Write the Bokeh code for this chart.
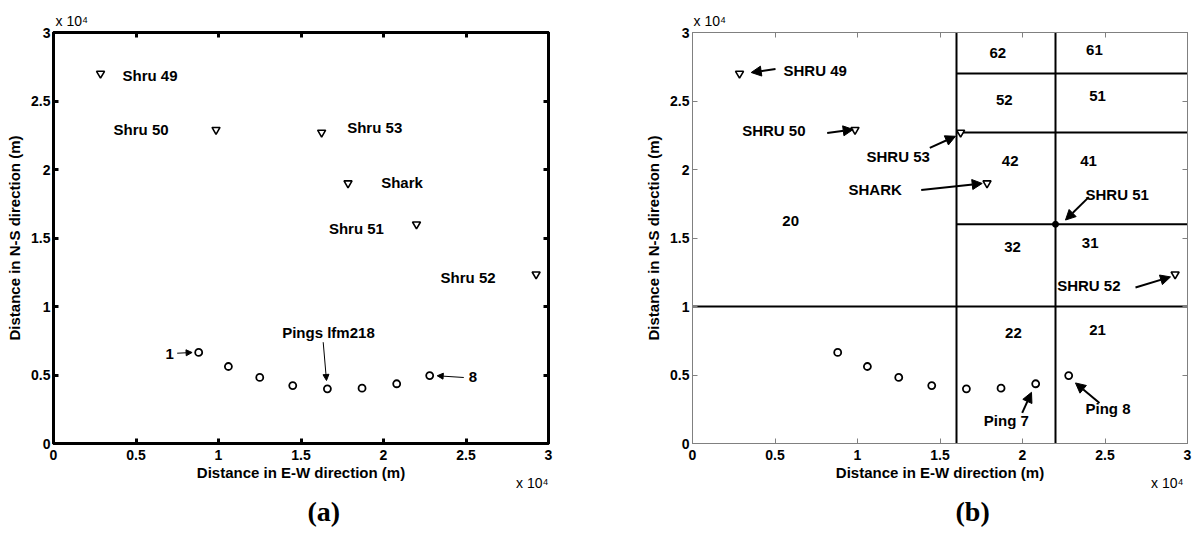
from bokeh.plotting import figure
from bokeh.layouts import row
from bokeh.models import (Range1d, FixedTicker, LinearAxis, Arrow, NormalHead, Title)
from bokeh.core.properties import value
from bokeh.embed import file_html
from bokeh.resources import INLINE

# ---------------- data ----------------
tick_vals = [0, 5000, 10000, 15000, 20000, 25000, 30000]
tick_labels = ["0", "0.5", "1", "1.5", "2", "2.5", "3"]

ping_x = [8800, 10600, 12500, 14500, 16600, 18700, 20800, 22800]
ping_y = [6650, 5620, 4820, 4230, 3990, 4040, 4360, 4960]

shru_names_a = ["Shru 49", "Shru 50", "Shru 53", "Shark", "Shru 51", "Shru 52"]
shru_names_b = ["SHRU 49", "SHRU 50", "SHRU 53", "SHARK", "SHRU 51", "SHRU 52"]
shru_x = [2850, 9850, 16250, 17850, 22000, 29250]
shru_y = [27000, 22900, 22700, 19000, 16000, 12350]

# panel (a) annotation label anchors (left / middle)
label_a_x = [4180, 3640, 17800, 19860, 16690, 23460]
label_a_y = [26860, 22920, 23070, 19050, 15720, 12140]
ping_note_a = ["Pings lfm218", "1", "8"]
ping_note_a_x = [13860, 6790, 25170]
ping_note_a_y = [8120, 6550, 4890]
arrows_a = [(7497, 6591, 8400, 6642), (16345, 7394, 16545, 4599), (24867, 4818, 23255, 4942)]

# panel (b) annotation label anchors
label_b_x = [5515, 3012, 10545, 9455, 23818, 22103]
label_b_y = [27233, 22864, 20971, 18568, 18204, 11505]
ping_note_b = ["Ping 7", "Ping 8"]
ping_note_b_x = [17655, 23818]
ping_note_b_y = [1675, 2549]
arrows_b = [(5030, 27330, 3558, 27080), (8164, 22670, 9739, 22920),
            (14382, 21575, 15939, 22427), (13861, 18495, 17558, 18983),
            (24018, 17985, 22606, 16311), (26848, 11381, 28970, 12160),
            (19982, 2235, 20545, 3736), (24667, 2963, 23212, 4420)]

# panel (b) partition
vert_x = [16000, 22000]
horiz_full_y = [10000]
horiz_part_y = [16000, 22700, 27000]
horiz_part_x0 = 16000
region_ids = ["62", "61", "52", "51", "42", "41", "32", "31", "22", "21", "20"]
region_x = [18500, 24360, 18900, 24550, 19250, 24000, 19400, 24100, 19450, 24550, 5950]
region_y = [28500, 28700, 25100, 25350, 20600, 20600, 14350, 14600, 8100, 8300, 16250]

FONT_NAME = "Liberation Sans"
SERIF_NAME = "Liberation Serif"
FONT = value(FONT_NAME)
overrides = {v: t for v, t in zip(tick_vals, tick_labels)}


def style_axes(p, color, lw):
    for ax in p.axis:
        ax.ticker = FixedTicker(ticks=tick_vals)
        ax.major_label_overrides = overrides
        ax.minor_tick_line_color = None
        ax.major_tick_in = 5
        ax.major_tick_out = 0
        ax.major_tick_line_color = color
        ax.major_tick_line_width = lw
        ax.axis_line_color = color
        ax.axis_line_width = lw
        ax.major_label_text_font = FONT_NAME
        ax.major_label_text_font_style = "bold"
        ax.major_label_text_color = "black"
        ax.axis_label_text_font = FONT_NAME
        ax.axis_label_text_font_style = "bold"
        ax.axis_label_text_font_size = "15px"
        ax.axis_label_text_color = "black"
    p.xaxis.major_label_standoff = 6
    p.yaxis.major_label_standoff = 3
    p.xaxis.axis_label_standoff = 1
    p.yaxis.axis_label_standoff = 5


def make_fig(width, mbl, mbr, mbt, mbb, color, lw):
    p = figure(width=width, height=536, output_backend="svg", toolbar_location=None,
               x_range=Range1d(0, 30000), y_range=Range1d(0, 30000),
               min_border_left=mbl, min_border_right=mbr,
               min_border_top=mbt, min_border_bottom=mbb)
    p.xgrid.visible = False
    p.ygrid.visible = False
    p.xaxis.axis_label = "Distance in E-W direction (m)"
    p.yaxis.axis_label = "Distance in N-S direction (m)"
    for loc in ("above", "right"):
        p.add_layout(LinearAxis(), loc)
    style_axes(p, color, lw)
    for ax in p.axis:
        ax.major_label_text_font_size = "14px"
    for ax in list(p.above) + list(p.right):
        ax.major_label_text_font_size = "0px"
        ax.major_label_text_color = None
        ax.major_label_standoff = 0
        ax.axis_label = None
    p.outline_line_color = color
    p.outline_line_width = lw
    p.outline_line_alpha = 1
    p.background_fill_color = "white"
    p.border_fill_color = "white"
    return p


def sci_titles(p, top_off, bottom_off, panel_label, label_off):
    p.add_layout(Title(text="x 10\u2074", align="left", offset=top_off, standoff=8,
                       text_font=FONT_NAME, text_font_size="14px", text_color="black",
                       text_font_style="normal", vertical_align="bottom"), "above")
    p.add_layout(Title(text="x 10\u2074", align="right", offset=bottom_off, standoff=-18,
                       text_font=FONT_NAME, text_font_size="14px", text_color="black",
                       text_font_style="normal", vertical_align="top"), "below")
    p.add_layout(Title(text=panel_label, align="left", offset=label_off, standoff=20,
                       text_font=SERIF_NAME, text_font_size="28px", text_color="black",
                       text_font_style="bold", vertical_align="bottom"), "below")


def text_kw(size="15px"):
    return dict(text_font=FONT, text_font_style="bold", text_font_size=size,
                text_color="black", text_baseline="middle", text_align="left")


# ---------------- panel (a) ----------------
p1 = make_fig(608, 53, 60, 32, 93, "black", 3)
p1.scatter(ping_x, ping_y, marker="circle", size=7, line_color="black",
           line_width=1.8, fill_color="white")
p1.scatter(shru_x, shru_y, marker="inverted_triangle", size=8, line_color="black",
           line_width=1.6, fill_color="white")
p1.text(x=label_a_x, y=label_a_y, text=shru_names_a, **text_kw())
p1.text(x=ping_note_a_x, y=ping_note_a_y, text=ping_note_a, **text_kw())
for (x0, y0, x1, y1) in arrows_a:
    p1.add_layout(Arrow(x_start=x0, y_start=y0, x_end=x1, y_end=y1, line_width=1,
                        line_color="black",
                        end=NormalHead(size=6, fill_color="black", line_color="black")))
sci_titles(p1, 2, 0, "(a)", 254)

# ---------------- panel (b) ----------------
p2 = make_fig(587, 84, 8, 31, 93, "#808080", 1)
for vx in vert_x:
    p2.segment(x0=vx, y0=0, x1=vx, y1=30000, line_color="black", line_width=2)
for hy in horiz_full_y:
    p2.segment(x0=0, y0=hy, x1=30000, y1=hy, line_color="black", line_width=2)
for hy in horiz_part_y:
    p2.segment(x0=horiz_part_x0, y0=hy, x1=30000, y1=hy, line_color="black", line_width=2)
p2.scatter(ping_x, ping_y, marker="circle", size=7, line_color="black",
           line_width=1.8, fill_color="white")
tri_idx = [0, 1, 2, 3, 5]
p2.scatter([shru_x[i] for i in tri_idx], [shru_y[i] for i in tri_idx],
           marker="inverted_triangle", size=8, line_color="black", line_width=1.6,
           fill_color="white")
p2.scatter([shru_x[4]], [shru_y[4]], marker="circle", size=6, color="black")
p2.text(x=label_b_x, y=label_b_y, text=shru_names_b, **text_kw())
p2.text(x=ping_note_b_x, y=ping_note_b_y, text=ping_note_b, **text_kw())
rk = text_kw()
rk["text_align"] = "center"
p2.text(x=region_x, y=region_y, text=region_ids, **rk)
for (x0, y0, x1, y1) in arrows_b:
    p2.add_layout(Arrow(x_start=x0, y_start=y0, x_end=x1, y_end=y1, line_width=2,
                        line_color="black",
                        end=NormalHead(size=10, fill_color="black", line_color="black")))
sci_titles(p2, 1, 4, "(b)", 263)

layout = row(p1, p2)
open("out.html", "w").write(file_html(layout, INLINE))
